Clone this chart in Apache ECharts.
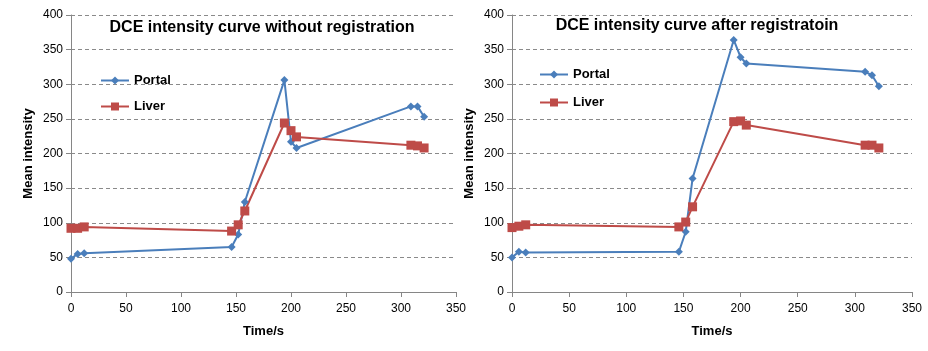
<!DOCTYPE html>
<html>
<head>
<meta charset="utf-8">
<script src="https://cdn.jsdelivr.net/npm/echarts@6/dist/echarts.min.js"></script>
<style>
html, body { margin: 0; padding: 0; background: #fff; }
#main { width: 928px; height: 351px; }
</style>
</head>
<body>
<div id="main"></div>
<script>
var myChart = echarts.init(document.getElementById('main'));

// time points (s), shared by both panels
var times = [0, 6, 12, 146, 152, 158, 194, 200, 205, 309, 315, 321];

// without registration
var portalBefore = [48, 55, 56, 65, 83, 130, 306, 217, 208, 268, 268, 253];
var liverBefore = [92, 92, 94, 88, 97, 117, 244, 233, 224, 212, 211, 208];

// after registration
var portalAfter = [50, 58, 57, 58, 87, 164, 364, 339, 330, 318, 313, 297];
var liverAfter = [93, 95, 97, 94, 101, 123, 246, 247, 241, 212, 212, 208];

var titles = ['DCE intensity curve without registration', 'DCE intensity curve after registratoin'];

function pairs(ys) {
    return times.map(function (t, i) { return [t, ys[i]]; });
}

var fontName = 'Liberation Sans';
var axisGray = '#868686';

function xAxisCfg(idx) {
    return {
        gridIndex: idx,
        type: 'value',
        min: 0,
        max: 350,
        interval: 50,
        name: 'Time/s',
        nameLocation: 'middle',
        nameGap: 33,
        nameTextStyle: { fontFamily: fontName, fontWeight: 'bold', fontSize: 13, color: '#000' },
        axisLine: { lineStyle: { color: axisGray } },
        axisTick: { show: true, length: 5, lineStyle: { color: axisGray } },
        axisLabel: { fontFamily: fontName, fontSize: 12, color: '#000', margin: 11 },
        splitLine: { show: false }
    };
}

function yAxisCfg(idx) {
    return {
        gridIndex: idx,
        type: 'value',
        min: 0,
        max: 400,
        interval: 50,
        name: 'Mean intensity',
        nameLocation: 'middle',
        nameGap: 36,
        nameTextStyle: { fontFamily: fontName, fontWeight: 'bold', fontSize: 13, color: '#000' },
        axisLine: { show: true, lineStyle: { color: axisGray } },
        axisTick: { show: true, length: 5, lineStyle: { color: axisGray } },
        axisLabel: { fontFamily: fontName, fontSize: 12, color: '#000', margin: 8 },
        splitLine: { lineStyle: { color: '#8a8a8a', type: [4, 3] } }
    };
}

function lineSeries(name, idx, ys, color, symbol, size) {
    return {
        name: name,
        type: 'line',
        xAxisIndex: idx,
        yAxisIndex: idx,
        data: pairs(ys),
        symbol: symbol,
        symbolSize: size,
        color: color,
        lineStyle: { width: 2, color: color },
        itemStyle: { color: color },
        animation: false
    };
}

var blue = '#4a7ebb';
var red = '#be4b48';

option = {
    backgroundColor: '#fff',
    title: [
        { text: titles[0], left: 257, top: 15, textAlign: 'center',
          textStyle: { fontFamily: fontName, fontSize: 16, fontWeight: 'bold', color: '#000' } },
        { text: titles[1], left: 692, top: 13, textAlign: 'center',
          textStyle: { fontFamily: fontName, fontSize: 16, fontWeight: 'bold', color: '#000' } }
    ],
    legend: [
        { left: 95, top: 69, orient: 'vertical', itemGap: 13, itemWidth: 28, itemHeight: 10,
          textStyle: { fontFamily: fontName, fontWeight: 'bold', fontSize: 13, color: '#000' },
          data: ['Portal', 'Liver'] },
        { left: 534, top: 63, orient: 'vertical', itemGap: 15, itemWidth: 28, itemHeight: 10,
          textStyle: { fontFamily: fontName, fontWeight: 'bold', fontSize: 13, color: '#000' },
          data: ['Portal', 'Liver'] }
    ],
    grid: [
        { left: 71, top: 15, width: 385, height: 277 },
        { left: 512, top: 15, width: 400, height: 277 }
    ],
    xAxis: [xAxisCfg(0), xAxisCfg(1)],
    yAxis: [yAxisCfg(0), yAxisCfg(1)],
    series: [
        lineSeries('Portal', 0, portalBefore, blue, 'diamond', 8),
        lineSeries('Liver', 0, liverBefore, red, 'rect', 9),
        lineSeries('Portal', 1, portalAfter, blue, 'diamond', 8),
        lineSeries('Liver', 1, liverAfter, red, 'rect', 9)
    ]
};
myChart.setOption(option);
</script>
</body>
</html>
